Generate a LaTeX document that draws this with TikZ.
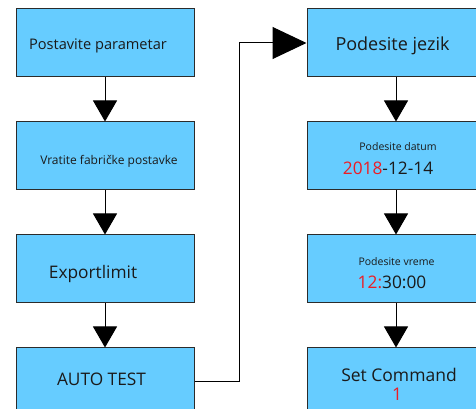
\documentclass[tikz,border=0pt]{standalone}
\usepackage{fontspec}
\setmainfont{Open Sans}
\usepackage{tikz}
\usetikzlibrary{positioning,arrows.meta}
\definecolor{cFill}{HTML}{66CCFF}
\definecolor{cLine}{HTML}{2B2B2B}
\definecolor{cInk}{HTML}{1A1A1A}
\definecolor{cRed}{HTML}{ED1C24}
\newcommand{\fs}[1]{\fontsize{#1}{#1}\selectfont}
\tikzset{
  blk/.style={draw=cLine, fill=cFill, line width=1pt,
              minimum width=178pt, minimum height=68pt, inner sep=0pt},
  txt/.style={anchor=base, inner sep=0pt, text=cInk},
  ar/.style={-{Triangle[width=24pt,length=21pt]}, black, line width=1pt},
  bigar/.style={-{Triangle[width=32pt,length=34pt]}, black, line width=1pt}
}
\begin{document}
\begin{tikzpicture}[node distance=44pt and 112pt]
\useasboundingbox (0,0) rectangle (476pt,409pt);
\clip (0,0) rectangle (476pt,409pt);
% left column
\node[blk] (param) at (105pt,366pt) {};
\node[blk, below=of param] (fabr) {};
\node[blk, below=of fabr] (export) {};
\node[blk, below=of export] (autotest) {};
% right column
\node[blk, right=of param] (jezik) {};
\node[blk, below=of jezik] (datum) {};
\node[blk, below=of datum] (vreme) {};
\node[blk, below=of vreme] (setcmd) {};
% texts
\node[txt, font=\fs{14.6}] (param-t) at ([shift={(-7pt,-7pt)}]param) {Postavite parametar};
\node[txt, font=\fs{12}] (fabr-t) at ([shift={(4pt,-8.3pt)}]fabr) {Vratite fabričke postavke};
\node[txt, font=\fs{17.3}] (export-t) at ([shift={(-12pt,-9.7pt)}]export) {Exportlimit};
\node[txt, font=\fs{17.3}] (autotest-t) at ([shift={(-3.5pt,-3.2pt)}]autotest) {AUTO TEST};
\node[txt, font=\fs{18}] (jezik-t) at ([shift={(-3.5pt,-7.4pt)}]jezik) {Podesite jezik};
\node[txt, font=\fs{10.5}] (datum-t) at ([shift={(2pt,5.7pt)}]datum) {Podesite datum};
\node[txt, font=\fs{17.3}] (datum-v) at ([shift={(-8pt,-18.3pt)}]datum) {\textcolor{cRed}{2018}-12-14};
\node[txt, font=\fs{10.5}] (vreme-t) at ([shift={(0.5pt,3.8pt)}]vreme) {Podesite vreme};
\node[txt, font=\fs{17.3}] (vreme-v) at ([shift={(-4pt,-19.7pt)}]vreme) {\textcolor{cRed}{12:}30:00};
\node[txt, font=\fs{17.5}] (setcmd-t) at ([shift={(3pt,0.5pt)}]setcmd) {Set Command};
\node[txt, font=\fs{17.5}, text=cRed] (setcmd-v) at ([shift={(1pt,-19pt)}]setcmd) {1};
% connectors
\coordinate (bend) at (239pt,0 |- autotest);
\draw[ar](param)--(fabr);\draw[ar](fabr)--(export);\draw[ar](export)--(autotest);
\draw[ar](jezik)--(datum);\draw[ar](datum)--(vreme);\draw[ar](vreme)--(setcmd);
\draw[bigar](autotest.east)--(bend)|-(jezik.west);
\end{tikzpicture}
\end{document}
